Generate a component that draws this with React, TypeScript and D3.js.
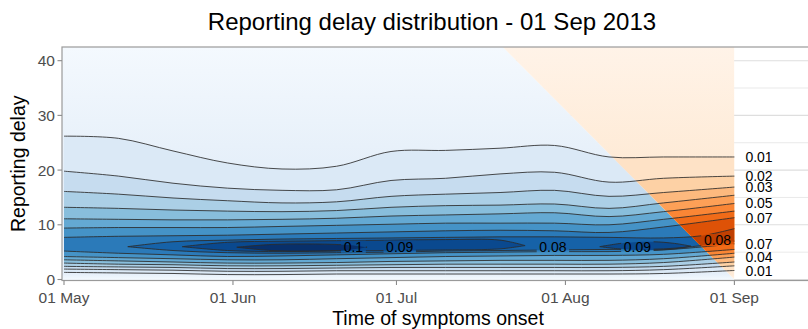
import React from "react";
import * as d3 from "d3";

const WIDTH = 808;
const HEIGHT = 329;

const START = new Date(2013, 4, 1);
const END = new Date(2013, 8, 1);

// contour knots, days since 01 May
const knotDays = [0, 10, 20, 30, 40, 50, 60, 70, 80, 90, 100, 110, 123];
const levels = [0.01, 0.02, 0.03, 0.04, 0.05, 0.06, 0.07];

// delay of each contour, upper side
const upperDelay = [
  [26.2, 25.8, 23.5, 21.3, 20.2, 20.7, 23.4, 23.6, 24.0, 24.5, 22.4, 22.4, 22.4],
  [19.8, 18.9, 17.6, 16.7, 16.3, 16.4, 18.1, 18.5, 19.3, 19.6, 17.8, 18.5, 18.9],
  [16.1, 15.6, 14.9, 14.4, 14.0, 14.2, 15.2, 15.6, 15.9, 16.3, 15.2, 15.9, 16.9],
  [13.2, 13.0, 12.7, 12.5, 12.4, 12.6, 13.2, 13.5, 13.6, 13.8, 13.0, 14.0, 15.4],
  [11.1, 11.0, 10.9, 10.9, 11.0, 11.2, 11.6, 11.8, 12.0, 12.2, 11.5, 12.4, 13.9],
  [9.4, 9.5, 9.5, 9.5, 9.7, 9.9, 10.1, 10.3, 10.3, 10.3, 10.0, 11.0, 12.5],
  [7.7, 7.9, 8.0, 8.1, 8.3, 8.5, 8.7, 8.9, 9.0, 8.9, 8.6, 9.6, 11.3],
];

// lower side
const lowerDelay = [
  [1.3, 1.2, 1.1, 0.9, 0.9, 1.0, 1.0, 1.0, 1.0, 1.0, 1.0, 1.1, 1.65],
  [1.9, 1.8, 1.7, 1.5, 1.5, 1.6, 1.6, 1.6, 1.6, 1.6, 1.6, 1.8, 2.5],
  [2.4, 2.3, 2.2, 2.0, 2.0, 2.1, 2.2, 2.2, 2.2, 2.2, 2.2, 2.4, 3.2],
  [3.0, 2.8, 2.7, 2.5, 2.5, 2.6, 2.7, 2.8, 2.8, 2.8, 2.8, 3.1, 4.1],
  [3.6, 3.4, 3.2, 3.0, 3.0, 3.1, 3.3, 3.4, 3.5, 3.5, 3.5, 3.8, 4.8],
  [4.2, 4.0, 3.8, 3.6, 3.6, 3.8, 4.0, 4.2, 4.3, 4.4, 4.4, 4.6, 5.5],
  [5.2, 4.8, 4.5, 4.2, 4.3, 4.5, 4.7, 4.9, 5.0, 5.1, 5.1, 5.4, 6.5],
];

// the inner contours that do not span the whole period
const innerContours = [
  {
    level: 0.08,
    days: [11.7, 20, 30, 40, 50, 60, 70, 80, 90, 100, 110, 117, 123],
    upper: [6.0, 6.9, 7.2, 7.4, 7.5, 7.6, 7.7, 7.8, 7.8, 7.7, 7.6, 8.0, 9.3],
    lower: [6.0, 5.3, 4.9, 4.8, 4.9, 5.0, 5.2, 5.3, 5.4, 5.5, 5.6, 6.2, 7.0],
  },
  {
    level: 0.09,
    days: [21.7, 30, 40, 50, 60, 70, 80, 84.6],
    upper: [6.0, 6.8, 7.0, 7.1, 7.2, 7.3, 7.2, 6.2],
    lower: [6.0, 5.3, 5.1, 5.2, 5.3, 5.4, 5.6, 6.2],
  },
  {
    level: 0.09,
    days: [98.3, 103, 108, 112, 115],
    upper: [6.0, 6.7, 6.9, 6.6, 6.1],
    lower: [6.0, 5.5, 5.4, 5.6, 6.1],
  },
  {
    level: 0.1,
    days: [31.7, 38, 45, 52, 55.6],
    upper: [5.9, 6.4, 6.5, 6.3, 5.9],
    lower: [5.9, 5.3, 5.2, 5.4, 5.9],
  },
];

const inlineLabels = [
  { text: "0.1", day: 53.1, delay: 6.0 },
  { text: "0.09", day: 61.6, delay: 6.0 },
  { text: "0.08", day: 89.7, delay: 6.0 },
  { text: "0.09", day: 105.2, delay: 6.0 },
  { text: "0.08", day: 119.9, delay: 7.2 },
];
const endLabelsUpper = [0.01, 0.02, 0.03, 0.05, 0.07];
const endLabelsLower = [0.07, 0.04, 0.01];

const monthTicks = ["2013-05-01", "2013-06-01", "2013-07-01", "2013-08-01", "2013-09-01"];
const monthLabels = ["01 May", "01 Jun", "01 Jul", "01 Aug", "01 Sep"];
const delayTicks = [0, 10, 20, 30, 40];
const delayMinor = [5, 15, 25, 35];

const FONT = "'Liberation Sans', Arial, Helvetica, sans-serif";
const MAXD = 0.105;

const toDate = (n: number) => new Date(START.getTime() + n * 864e5);
const parse = d3.timeParse("%Y-%m-%d");

export default function App() {
  const x = d3.scaleTime().domain([START, END]).range([64, 734.4]);
  const y = d3.scaleLinear().domain([0, 42.5]).range([279.5, 47]);

  const panel = { left: 62, top: 47, right: 812, bottom: 280.5 };
  const raster = { left: 62, right: x(END), top: 47, bottom: 280 };

  type P = [number, number, number];
  const area = d3
    .area<P>()
    .x((p) => x(toDate(p[0])))
    .y0((p) => y(p[1]))
    .y1((p) => y(p[2]))
    .curve(d3.curveCatmullRom.alpha(0.5));
  const lowLine = area.lineY0();
  const upLine = area.lineY1();

  const bands = [
    ...levels.map((lv, li) => ({
      level: lv,
      pts: knotDays.map((k, i) => [k, lowerDelay[li][i], upperDelay[li][i]] as P),
    })),
    ...innerContours.map((c) => ({
      level: c.level,
      pts: c.days.map((k, i) => [k, c.lower[i], c.upper[i]] as P),
    })),
  ];

  const poly = (pts: [number, number][]) =>
    pts.map(([t, d]) => `${x(toDate(t))},${y(d)}`).join(" ");
  const observed = poly([[-1, -1], [-1, 43], [80, 43], [124, -1]]);
  const unobserved = poly([[80, 43], [130, 43], [130, -7]]);

  const field = (interp: (t: number) => string, id: string) => {
    const color = d3.scaleSequential(interp).domain([0, MAXD]);
    const stops = [
      [0, 0.002],
      [1, 0.009],
      [20, 0.0095],
      [42.5, 0.0015],
    ];
    return (
      <g>
        <defs>
          <linearGradient id={id} gradientUnits="userSpaceOnUse" x1={0} x2={0} y1={y(0)} y2={y(42.5)}>
            {stops.map(([d, v], i) => (
              <stop key={i} offset={d / 42.5} stopColor={color(v)} />
            ))}
          </linearGradient>
        </defs>
        <rect
          x={raster.left}
          y={raster.top}
          width={raster.right - raster.left}
          height={raster.bottom - raster.top}
          fill={`url(#${id})`}
        />
        {bands.map((b, i) => (
          <path key={i} d={area(b.pts) || ""} fill={color(b.level + 0.005)} />
        ))}
      </g>
    );
  };

  const labelW = (s: string) => s.length * 7.6 + 2;

  return (
    <svg
      width={WIDTH}
      height={HEIGHT}
      style={{ position: "absolute", left: 0, top: 0, background: "white" }}
      fontFamily={FONT}
    >
      <defs>
        <clipPath id="rasterClip">
          <rect x={raster.left} y={raster.top} width={raster.right - raster.left} height={raster.bottom - raster.top} />
        </clipPath>
        <clipPath id="obsClip">
          <polygon points={observed} />
        </clipPath>
        <clipPath id="unobsClip">
          <polygon points={unobserved} />
        </clipPath>
        <mask id="labelGap">
          <rect x={0} y={0} width={WIDTH} height={HEIGHT} fill="white" />
          {inlineLabels.map((l, i) => (
            <rect
              key={i}
              x={x(toDate(l.day)) - labelW(l.text) / 2}
              y={y(l.delay) - 6}
              width={labelW(l.text)}
              height={12}
              fill="black"
            />
          ))}
        </mask>
      </defs>

      <text x={432} y={30} textAnchor="middle" fontSize={24} fill="#000">
        Reporting delay distribution - 01 Sep 2013
      </text>

      {/* panel grid */}
      <rect x={panel.left} y={panel.top} width={panel.right - panel.left} height={panel.bottom - panel.top} fill="white" />
      {delayMinor.map((v) => (
        <line key={"m" + v} x1={panel.left} x2={panel.right} y1={y(v)} y2={y(v)} stroke="#e3e3e3" strokeWidth={0.8} />
      ))}
      {delayTicks.map((v) => (
        <line key={"g" + v} x1={panel.left} x2={panel.right} y1={y(v)} y2={y(v)} stroke="#dedede" strokeWidth={1.1} />
      ))}

      <g clipPath="url(#rasterClip)">
        <g clipPath="url(#obsClip)">{field(d3.interpolateBlues, "gBlue")}</g>
        <g clipPath="url(#unobsClip)">{field(d3.interpolateOranges, "gOrange")}</g>
      </g>

      {/* contour lines */}
      <g mask="url(#labelGap)" fill="none" stroke="#2b2b2b" strokeWidth={1} strokeOpacity={0.85}>
        {bands.map((b, i) => (
          <g key={i}>
            <path d={lowLine(b.pts) || ""} />
            <path d={upLine(b.pts) || ""} />
          </g>
        ))}
      </g>

      {/* contour labels */}
      <g fontSize={14} fill="#000">
        {inlineLabels.map((l, i) => (
          <text key={i} x={x(toDate(l.day))} y={y(l.delay)} dy="0.36em" textAnchor="middle">
            {l.text}
          </text>
        ))}
        {endLabelsUpper.map((lv) => {
          const li = levels.indexOf(lv);
          return (
            <text key={"u" + lv} x={x(END) + 11} y={y(upperDelay[li][knotDays.length - 1])} dy="0.36em">
              {lv.toFixed(2)}
            </text>
          );
        })}
        {endLabelsLower.map((lv) => {
          const li = levels.indexOf(lv);
          return (
            <text key={"l" + lv} x={x(END) + 11} y={y(lowerDelay[li][knotDays.length - 1])} dy="0.36em">
              {lv.toFixed(2)}
            </text>
          );
        })}
      </g>

      <rect
        x={panel.left}
        y={panel.top}
        width={panel.right - panel.left}
        height={panel.bottom - panel.top}
        fill="none"
        stroke="#9a9a9a"
        strokeWidth={1.2}
      />

      {/* axes */}
      <g fontSize={15.5} fill="#4d4d4d">
        {delayTicks.map((v) => (
          <g key={v}>
            <line x1={panel.left - 4.5} x2={panel.left} y1={y(v)} y2={y(v)} stroke="#8a8a8a" strokeWidth={1.1} />
            <text x={panel.left - 7} y={y(v)} dy="0.36em" textAnchor="end">
              {v}
            </text>
          </g>
        ))}
        {monthTicks.map((s, i) => {
          const xx = x(parse(s) as Date);
          return (
            <g key={s}>
              <line x1={xx} x2={xx} y1={panel.bottom} y2={panel.bottom + 4.5} stroke="#8a8a8a" strokeWidth={1.1} />
              <text x={xx} y={panel.bottom + 22} textAnchor="middle">
                {monthLabels[i]}
              </text>
            </g>
          );
        })}
      </g>

      <text x={438} y={325} textAnchor="middle" fontSize={19.5} fill="#000">
        Time of symptoms onset
      </text>
      <text
        transform={`translate(25,${(panel.top + panel.bottom) / 2}) rotate(-90)`}
        textAnchor="middle"
        fontSize={19.5}
        fill="#000"
      >
        Reporting delay
      </text>
    </svg>
  );
}
